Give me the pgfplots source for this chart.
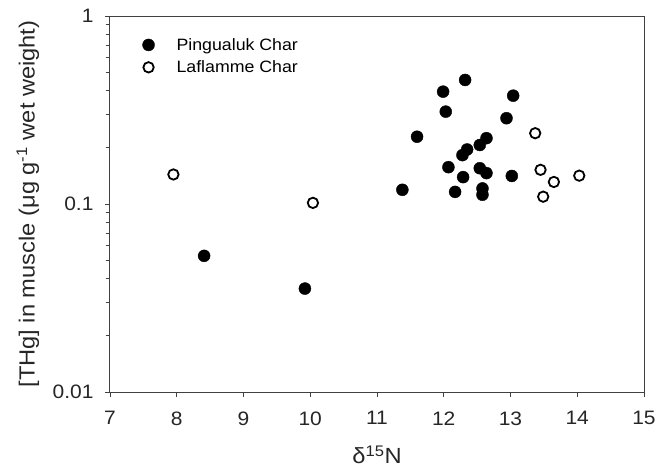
\documentclass[border=0pt]{standalone}
\usepackage{fontspec}
\setmainfont{Liberation Sans}[FakeStretch=1.08]
\usepackage{pgfplots}
\pgfplotsset{compat=1.18}

\begin{document}
\begin{tikzpicture}
\begin{axis}[
  scale only axis, width=534bp, height=376bp,
  xmin=7, xmax=15, ymode=log, ymin=0.01, ymax=1,
  xtick={7,8,...,15},
  log ticks with fixed point,
  /pgf/number format/assume math mode=true,
  tick align=outside, xtick pos=bottom, ytick pos=left,
  major tick length=5bp, minor tick length=4bp,
  axis line style={line width=1bp, black!75},
  every tick/.style={line width=0.9bp, black!75},
  ticklabel style={font=\fontsize{19.5}{21}\selectfont, color=black!85},
  xticklabel style={yshift=-11bp},
  yticklabel style={xshift=-8bp},
  label style={font=\fontsize{22}{24}\selectfont, color=black!85},
  xlabel={δ\textsuperscript{15}N},
  ylabel={[THg] in muscle (μg g\textsuperscript{-1} wet weight)},
  xlabel style={at={(axis description cs:0.5,-0.1676)}, anchor=center},
  ylabel style={at={(axis description cs:-0.1536,0.5)}, anchor=center},
  legend style={draw=none, fill=none, at={(axis description cs:0.055,0.952)},
    anchor=north west, font=\fontsize{16.5}{18}\selectfont, row sep=5bp,
    /tikz/every odd column/.append style={column sep=20bp}},
  legend cell align=left,
]
\addplot[only marks, mark=*, mark size=6bp, black] coordinates {
  (12.32,0.457) (11.99,0.396) (13.04,0.377) (12.03,0.310) (12.94,0.286)
  (11.60,0.228) (12.64,0.224) (12.54,0.206) (12.35,0.195) (12.28,0.182)
  (12.07,0.157) (12.54,0.155) (12.64,0.146) (12.29,0.139) (13.02,0.141)
  (11.38,0.119) (12.17,0.116) (12.58,0.121) (12.58,0.112)
  (8.41,0.053) (9.92,0.0355)
};
\addlegendentry{Pingualuk Char}
\addplot[only marks, mark=o, mark size=5.2bp, mark options={line width=1.8bp}, black] coordinates {
  (7.95,0.1436) (10.04,0.1014) (13.37,0.238) (13.45,0.152) (13.65,0.131)
  (14.03,0.1415) (13.49,0.1094)
};
\addlegendentry{Laflamme Char}
\end{axis}
\pgfresetboundingbox
\path ([xshift=-110bp,yshift=-77bp]current axis.south west) rectangle ([xshift=20bp,yshift=16bp]current axis.north east);
\end{tikzpicture}
\end{document}
